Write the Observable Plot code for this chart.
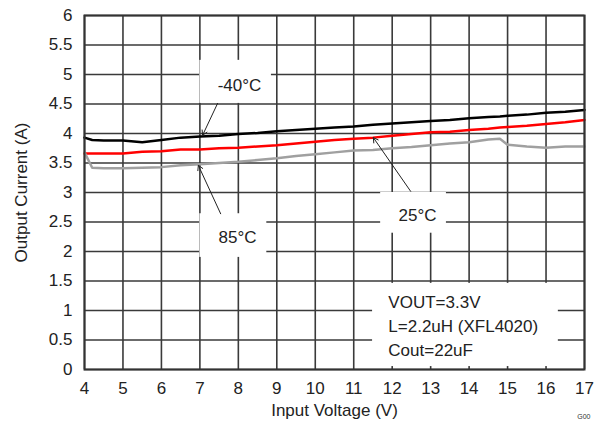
<!DOCTYPE html>
<html>
<head>
<meta charset="utf-8">
<script src="https://cdn.jsdelivr.net/npm/d3@7"></script>
<script src="https://cdn.jsdelivr.net/npm/@observablehq/plot@0.6"></script>
<style>
  html, body { margin: 0; padding: 0; background: #fff; }
</style>
</head>
<body>
<div id="chart"></div>
<script>
// Input voltage samples (V)
const vin = [4, 4.2, 4.5, 5, 5.5, 6, 6.5, 7, 7.5, 8, 8.5, 9, 9.5, 10, 10.5, 11, 11.5, 12, 12.5, 13, 13.5, 14, 14.5, 14.8, 15, 15.5, 16, 16.5, 17];
// Output current (A) per temperature
const iMinus40 = [3.93, 3.89, 3.88, 3.88, 3.85, 3.89, 3.93, 3.95, 3.96, 3.99, 4.01, 4.04, 4.06, 4.08, 4.10, 4.12, 4.15, 4.17, 4.19, 4.21, 4.23, 4.26, 4.28, 4.29, 4.30, 4.32, 4.35, 4.37, 4.40];
const i25 = [3.66, 3.66, 3.66, 3.66, 3.69, 3.70, 3.73, 3.73, 3.75, 3.76, 3.78, 3.80, 3.83, 3.86, 3.89, 3.91, 3.93, 3.96, 3.99, 4.02, 4.03, 4.06, 4.08, 4.10, 4.11, 4.13, 4.16, 4.19, 4.23];
const i85 = [3.68, 3.42, 3.41, 3.41, 3.42, 3.43, 3.46, 3.48, 3.50, 3.52, 3.55, 3.58, 3.62, 3.65, 3.68, 3.71, 3.72, 3.75, 3.77, 3.80, 3.83, 3.85, 3.90, 3.91, 3.81, 3.78, 3.76, 3.78, 3.78];
const seriesNames = ["-40°C", "25°C", "85°C"];
const seriesColors = ["#000000", "#ff0000", "#a0a0a0"];

// Axis ticks
const xTicks = [4, 5, 6, 7, 8, 9, 10, 11, 12, 13, 14, 15, 16, 17];
const yTicks = [0, 0.5, 1, 1.5, 2, 2.5, 3, 3.5, 4, 4.5, 5, 5.5, 6];

// Annotation labels (data coordinates)
const labelText = ["-40°C", "85°C", "25°C"];
const labelX = [8.03, 7.98, 12.66];
const labelY = [4.81, 2.24, 2.61];
// white boxes behind labels
const boxX1 = [7.0, 7.0, 11.7];
const boxX2 = [8.86, 8.74, 13.41];
const boxY1 = [4.51, 1.90, 2.31];
const boxY2 = [5.24, 2.64, 3.0];
// arrows from label to curve
const arrX1 = [7.46, 7.54, 12.48];
const arrY1 = [4.51, 2.64, 3.02];
const arrX2 = [7.07, 6.96, 11.51];
const arrY2 = [3.97, 3.46, 3.93];

// Conditions note
const noteLines = ["VOUT=3.3V", "L=2.2uH (XFL4020)", "Cout=22uF"];
const noteX = 11.9;
const noteY = [1.14, 0.73, 0.32];
const noteBox = {x1: 11.49, x2: 16.32, y1: 0.05, y2: 1.46};

const rows = [];
[iMinus40, i25, i85].forEach((arr, k) => {
  arr.forEach((v, i) => rows.push({series: seriesNames[k], vin: vin[i], iout: v}));
});
const labels = labelText.map((t, i) => ({t, x: labelX[i], y: labelY[i]}));
const boxes = boxX1.map((x1, i) => ({x1, x2: boxX2[i], y1: boxY1[i], y2: boxY2[i]}));
boxes.push(noteBox);
const arrows = arrX1.map((x1, i) => ({x1, y1: arrY1[i], x2: arrX2[i], y2: arrY2[i]}));
const notes = noteLines.map((t, i) => ({t, x: noteX, y: noteY[i]}));

const textColor = "#222";

const chart = Plot.plot({
  width: 600,
  height: 424,
  marginLeft: 84,
  marginRight: 16,
  marginTop: 15,
  marginBottom: 55,
  style: {fontFamily: "'Liberation Sans', Arial, sans-serif", fontSize: "17px", color: textColor, background: "#fff"},
  x: {domain: [4, 17], ticks: xTicks},
  y: {domain: [0, 6], ticks: yTicks},
  color: {domain: seriesNames, range: seriesColors},
  marks: [
    Plot.gridX(xTicks, {stroke: "#3a3a3a", strokeOpacity: 1, strokeWidth: 1.6}),
    Plot.gridY(yTicks, {stroke: "#3a3a3a", strokeOpacity: 1, strokeWidth: 1.6}),
    Plot.rect(boxes, {x1: "x1", x2: "x2", y1: "y1", y2: "y2", fill: "#fff"}),
    Plot.line(rows, {x: "vin", y: "iout", z: "series", stroke: "series", strokeWidth: 2.5}),
    Plot.arrow(arrows, {x1: "x1", y1: "y1", x2: "x2", y2: "y2", stroke: "#222", strokeWidth: 1, headLength: 8}),
    Plot.text(labels, {x: "x", y: "y", text: "t", fill: textColor, fontSize: 17}),
    Plot.text(notes, {x: "x", y: "y", text: "t", fill: textColor, fontSize: 17, textAnchor: "start"}),
    Plot.axisX(xTicks, {tickSize: 0, tickPadding: 12, fontSize: 17, label: "Input Voltage (V)", labelAnchor: "center", labelArrow: "none", labelOffset: 46, tickFormat: d => String(d)}),
    Plot.axisY(yTicks, {tickSize: 0, tickPadding: 12, fontSize: 17, label: "Output Current (A)", labelAnchor: "center", labelArrow: "none", labelOffset: 70, tickFormat: d => String(d)}),
    Plot.frame({stroke: "#333", strokeWidth: 2}),
    Plot.text(["G00"], {frameAnchor: "bottom-right", dx: 6, dy: 49, fontSize: 7, fill: "#333"})
  ]
});
document.getElementById("chart").appendChild(chart);
</script>
</body>
</html>
